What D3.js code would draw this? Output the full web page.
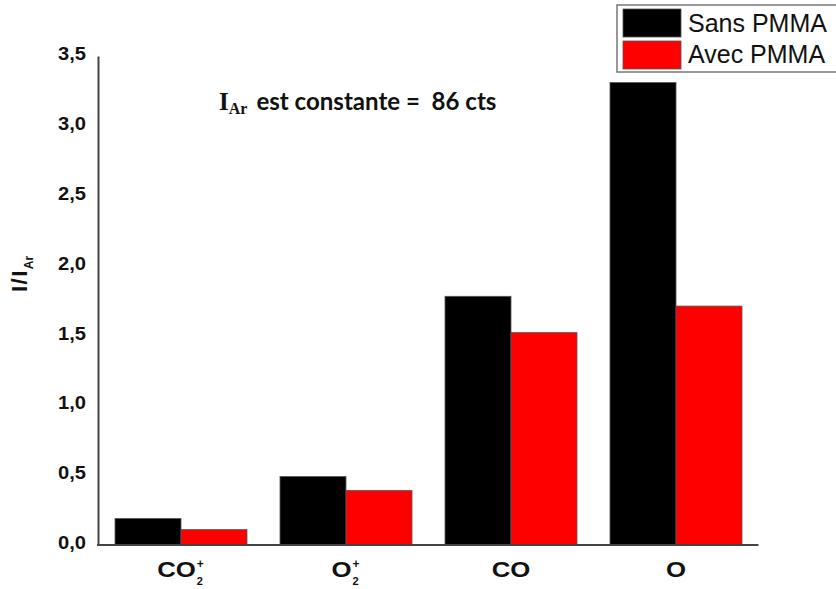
<!DOCTYPE html>
<html><head><meta charset="utf-8">
<script src="https://cdn.jsdelivr.net/npm/d3@7"></script>
<style>body{margin:0;background:#fff}svg{display:block}</style>
</head><body>
<svg id="c" width="836" height="589"></svg>
<script>
const categories = ["CO2+", "O2+", "CO", "O"];
const seriesNames = ["Sans PMMA", "Avec PMMA"];
const sansPMMA = [0.19, 0.49, 1.78, 3.31];
const avecPMMA = [0.11, 0.39, 1.52, 1.71];
const yTicks = [0, 0.5, 1.0, 1.5, 2.0, 2.5, 3.0, 3.5];
const colors = ["#000000", "#ff0000"];

const svg = d3.select("#c");
const x = d3.scaleBand().domain(categories).range([98.5, 758.5]).paddingInner(0.2).paddingOuter(0.1);
const xs = d3.scaleBand().domain(seriesNames).range([0, x.bandwidth()]);
const y = d3.scaleLinear().domain([0, 3.5]).range([545, 56]);
const SANS = "Liberation Sans, Arial, sans-serif";

const series = [sansPMMA, avecPMMA];
series.forEach((vals, si) => {
  svg.append("g").selectAll("rect").data(vals).join("rect")
    .attr("x", (d, i) => x(categories[i]) + xs(seriesNames[si]))
    .attr("y", d => y(d))
    .attr("width", xs.bandwidth())
    .attr("height", d => y(0) - y(d))
    .attr("fill", colors[si])
    .attr("stroke", "#555").attr("stroke-width", 0.8);
});

// y axis
const fmt = d => d3.format(".1f")(d).replace(".", ",");
const yAxis = svg.append("g").attr("transform", "translate(98,0)")
  .call(d3.axisLeft(y).tickValues(yTicks).tickFormat(fmt).tickSize(0).tickPadding(12));
yAxis.select(".domain").attr("stroke", "#444").attr("stroke-width", 2);
yAxis.selectAll("text").attr("font-family", SANS)
  .attr("font-weight", "bold").attr("font-size", 18).attr("fill", "#111")
  .attr("dy", "0.2em").attr("textLength", 28).attr("lengthAdjust", "spacingAndGlyphs");

// x axis
const xAxis = svg.append("g").attr("transform", "translate(0,545)")
  .call(d3.axisBottom(x).tickSize(0).tickFormat(""));
xAxis.select(".domain").attr("stroke", "#444").attr("stroke-width", 2).attr("d", "M97,0H758.5");

const labelParts = {
  "CO2+": {base: "CO", sup: "+", sub: "2"},
  "O2+": {base: "O", sup: "+", sub: "2"},
  "CO": {base: "CO"},
  "O": {base: "O"}
};
categories.forEach(c => {
  const p = labelParts[c];
  const cx = x(c) + x.bandwidth() / 2;
  const g = svg.append("g").attr("font-family", SANS)
    .attr("font-weight", "bold").attr("fill", "#111");
  const t = g.append("text").attr("y", 577).attr("font-size", 22).text(p.base);
  const w = t.node().getComputedTextLength() * 1.17;
  t.attr("textLength", w).attr("lengthAdjust", "spacingAndGlyphs");
  const extra = p.sup ? 9 : 0;
  const x0 = cx - (w + extra) / 2;
  t.attr("x", x0);
  if (p.sup) {
    g.append("text").attr("x", x0 + w + 1).attr("y", 568).attr("font-size", 12).text(p.sup);
    g.append("text").attr("x", x0 + w + 1).attr("y", 585).attr("font-size", 11).text(p.sub);
  }
});

// y label
const yl = svg.append("text").attr("transform", "translate(27,274) rotate(-90)")
  .attr("text-anchor", "middle").attr("font-family", SANS)
  .attr("font-weight", "bold").attr("fill", "#111");
yl.append("tspan").attr("font-size", 22).attr("letter-spacing", 1.5).text("I/I");
yl.append("tspan").attr("font-size", 12).attr("dy", 6).attr("dx", 0).text("Ar");

// annotation
const an = svg.append("text").attr("x", 219).attr("y", 110).attr("fill", "#111").style("white-space", "pre");
an.append("tspan").attr("font-family", "Liberation Serif, serif").attr("font-weight", "bold").attr("font-size", 25).text("I");
an.append("tspan").attr("font-family", "Liberation Serif, serif").attr("font-weight", "bold").attr("font-size", 16).attr("dy", 4).text("Ar");
an.append("tspan").attr("font-family", "Lato, sans-serif").attr("font-weight", "bold").attr("font-size", 24).attr("dy", -4).attr("dx", 9)
  .attr("textLength", 240).attr("lengthAdjust", "spacingAndGlyphs").text("est constante =  86 cts");

// legend
const lg = svg.append("g");
lg.append("rect").attr("x", 617).attr("y", 5).attr("width", 230).attr("height", 67)
  .attr("fill", "#fff").attr("stroke", "#777").attr("stroke-width", 1.5);
seriesNames.forEach((s, i) => {
  lg.append("rect").attr("x", 623).attr("y", 9 + i * 32).attr("width", 58).attr("height", 28)
    .attr("fill", colors[i]).attr("stroke", "#555").attr("stroke-width", 0.8);
  lg.append("text").attr("x", 688).attr("y", 32 + i * 31)
    .attr("font-family", SANS).attr("font-size", 25).attr("fill", "#111").text(s);
});
</script>
</body></html>
